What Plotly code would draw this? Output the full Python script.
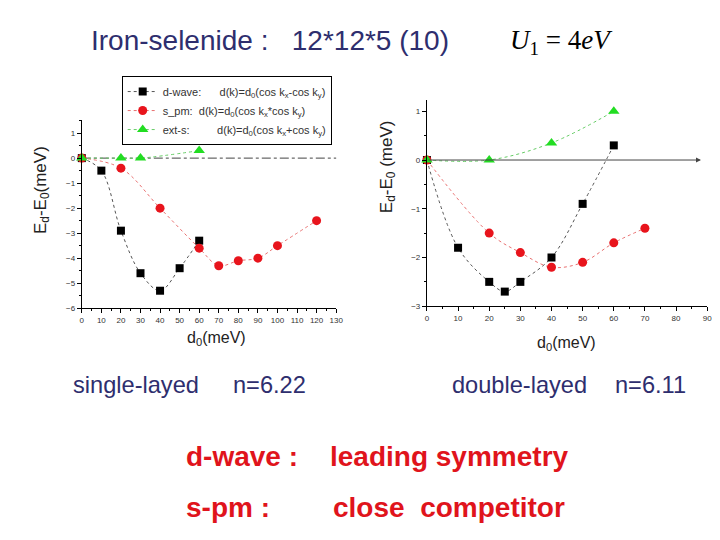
import plotly.graph_objects as go

# ---- data: single-layer (left) ----
L_d_x = [0, 10, 20, 30, 40, 50, 60]
L_d_y = [0, -0.5, -2.9, -4.6, -5.3, -4.4, -3.3]
L_s_x = [0, 20, 40, 60, 70, 80, 90, 100, 120]
L_s_y = [0, -0.4, -2.0, -3.6, -4.3, -4.1, -4.0, -3.5, -2.5]
L_e_x = [0, 20, 30, 60]
L_e_y = [0, 0, 0, 0.3]

# ---- data: double-layer (right) ----
R_d_x = [0, 10, 20, 25, 30, 40, 50, 60]
R_d_y = [0, -1.8, -2.5, -2.7, -2.5, -2.0, -0.9, 0.3]
R_s_x = [0, 20, 30, 40, 50, 60, 70]
R_s_y = [0, -1.5, -1.9, -2.2, -2.1, -1.7, -1.4]
R_e_x = [0, 20, 40, 60]
R_e_y = [0, 0, 0.35, 1.0]

L_xticks = list(range(0, 131, 10))
L_yticks = [1, 0, -1, -2, -3, -4, -5, -6]
R_xticks = list(range(0, 91, 10))
R_yticks = [1, 0, -1, -2, -3]

sp = "&nbsp;"
names = [
    "d-wave:" + sp * 6 + "d(k)=d<sub>0</sub>(cos k<sub>x</sub>-cos k<sub>y</sub>)",
    "s_pm:" + sp * 2 + "d(k)=d<sub>0</sub>(cos k<sub>x</sub>*cos k<sub>y</sub>)",
    "ext-s:" + sp * 9 + "d(k)=d<sub>0</sub>(cos k<sub>x</sub>+cos k<sub>y</sub>)",
]
colors = ["#000000", "#e8141c", "#22dd22"]
lcolors = ["#555555", "#e87070", "#66cc66"]
symbols = ["square", "circle", "triangle-up"]
msizes = [8, 9, 10]

W, H = 720, 540
K = 1.0 / 0.99   # compensation for the slight down-scaling of the capture
def px(x):
    return x * K / W
def py(y):
    return 1 - y * K / H

fig = go.Figure()

left = [(L_d_x, L_d_y), (L_s_x, L_s_y), (L_e_x, L_e_y)]
right = [(R_d_x, R_d_y), (R_s_x, R_s_y), (R_e_x, R_e_y)]
for i, (xs, ys) in enumerate(left):
    fig.add_trace(go.Scatter(x=xs, y=ys, mode="lines+markers", name=names[i],
                             line=dict(color=lcolors[i], width=1, dash="dot", shape="spline"),
                             marker=dict(color=colors[i], symbol=symbols[i], size=msizes[i]),
                             xaxis="x", yaxis="y", cliponaxis=False, showlegend=True))
for i, (xs, ys) in enumerate(right):
    fig.add_trace(go.Scatter(x=xs, y=ys, mode="lines+markers", name=names[i],
                             line=dict(color=lcolors[i], width=1, dash="dot", shape="spline"),
                             marker=dict(color=colors[i], symbol=symbols[i], size=msizes[i]),
                             xaxis="x2", yaxis="y2", cliponaxis=False, showlegend=False))

axcommon = dict(showgrid=False, zeroline=False, showline=True, linecolor="black", linewidth=1,
                ticks="outside", ticklen=4, tickcolor="black",
                tickfont=dict(family="Arial", size=8, color="#333333"))

def minor(d):
    return dict(ticks="outside", ticklen=2, tickcolor="black", dtick=d)

fig.update_layout(
    width=W, height=H, margin=dict(l=0, r=0, t=0, b=0),
    paper_bgcolor="white", plot_bgcolor="white",
    xaxis=dict(domain=[px(80), px(335)], range=[0, 130], tickvals=L_xticks, anchor="y",
               minor=minor(5), **axcommon),
    yaxis=dict(domain=[py(308), py(120)], range=[-6, 1.52], tickvals=L_yticks, anchor="x",
               minor=minor(0.5), **axcommon),
    xaxis2=dict(domain=[px(426), px(707)], range=[0, 90], tickvals=R_xticks, anchor="y2",
                minor=minor(5), **axcommon),
    yaxis2=dict(domain=[py(306), py(100)], range=[-3, 1.23], tickvals=R_yticks, anchor="x2",
                minor=minor(0.5), **axcommon),
    legend=dict(x=px(120), y=py(76), xanchor="left", yanchor="top",
                bordercolor="black", borderwidth=1, bgcolor="white",
                font=dict(family="Arial", size=11, color="#333333"),
                tracegroupgap=0, itemwidth=30),
    showlegend=True,
)

# zero reference lines
fig.add_shape(type="line", xref="x", yref="y", x0=0, x1=137, y0=0, y1=0,
              line=dict(color="#444444", width=1, dash="dashdot"), layer="below")
fig.add_annotation(xref="x2", yref="y2", axref="x2", ayref="y2", x=88, y=0, ax=0, ay=0,
                   showarrow=True, arrowhead=2, arrowsize=1, arrowwidth=1, arrowcolor="#444444",
                   text="")

navy = "#2e2e6e"
def txt(x, y, s, size=20, color=navy, family="Arial", xanchor="left", **kw):
    fig.add_annotation(xref="paper", yref="paper", x=px(x), y=py(y), text=s, showarrow=False,
                       xanchor=xanchor, yanchor="middle", borderpad=0,
                       font=dict(size=size, color=color, family=family), **kw)

# axis titles
txt(215, 338, "d<sub>0</sub>(meV)", size=16, color="#222222", xanchor="center")
txt(566, 343, "d<sub>0</sub>(meV)", size=16, color="#222222", xanchor="center")
txt(40, 190, "E<sub>d</sub>-E<sub>0</sub>(meV)", size=17, color="#222222", xanchor="center", textangle=-90)
txt(387, 167, "E<sub>d</sub>-E<sub>0</sub> (meV)", size=17, color="#222222", xanchor="center", textangle=-90)

# headline texts
txt(88, 40, "Iron-selenide :&nbsp;&nbsp;&nbsp;12*12*5 (10)", size=28)
txt(508, 42, "<i>U</i><sub>1</sub> = 4<i>eV</i>", size=27, color="#000000", family="Liberation Serif")

txt(70, 385, "single-layed", size=23.6)
txt(231, 385, "n=6.22", size=23.6)
txt(450, 385, "double-layed", size=23.6)
txt(614, 385, "n=6.11", size=23.6)

red = "#e0141c"
txt(183, 456, "<b>d-wave :</b>", size=28, color=red)
txt(328, 456, "<b>leading symmetry</b>", size=28, color=red)
txt(183, 507, "<b>s-pm :</b>", size=28, color=red)
txt(331, 507, "<b>close&nbsp;&nbsp;competitor</b>", size=28, color=red)

fig.write_html(
    "out.html",
    config={"displayModeBar": False},
    post_script=("document.documentElement.style.margin='0';document.documentElement.style.overflow='hidden';"
                 "document.body.style.margin='0';document.body.style.overflow='hidden';"
                 "document.body.style.height='540px';"),
)
